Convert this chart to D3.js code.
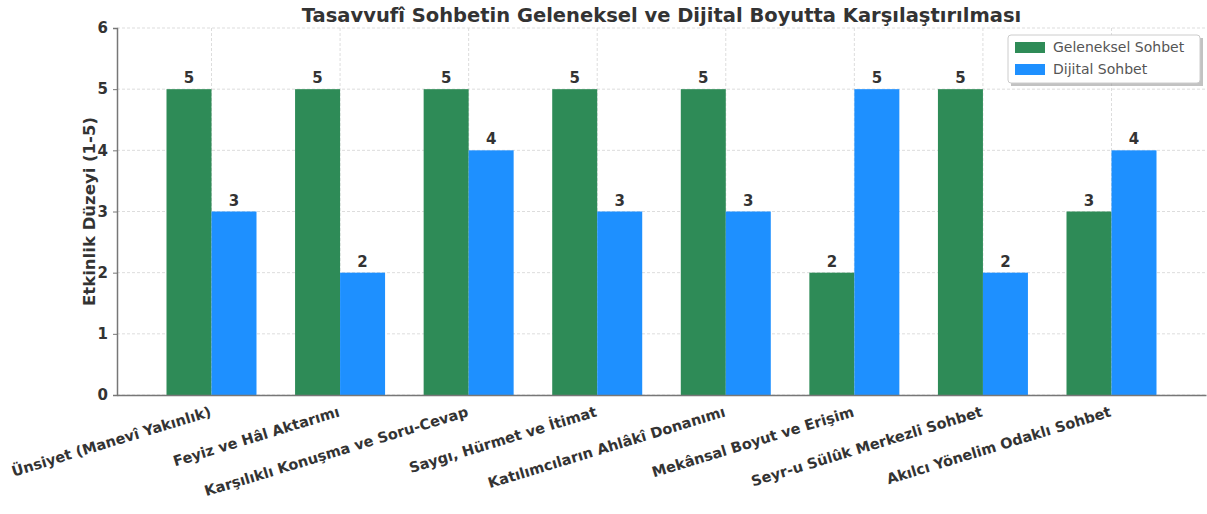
<!DOCTYPE html>
<html>
<head>
<meta charset="utf-8">
<script src="https://cdn.jsdelivr.net/npm/d3@7"></script>
<style>
  body { margin: 0; background: #fff; }
  svg text { font-family: "DejaVu Sans", sans-serif; fill: #333; }
</style>
</head>
<body>
<div id="chart"></div>
<script>
const categories = [
  "Ünsiyet (Manevî Yakınlık)",
  "Feyiz ve Hâl Aktarımı",
  "Karşılıklı Konuşma ve Soru-Cevap",
  "Saygı, Hürmet ve İtimat",
  "Katılımcıların Ahlâkî Donanımı",
  "Mekânsal Boyut ve Erişim",
  "Seyr-u Sülûk Merkezli Sohbet",
  "Akılcı Yönelim Odaklı Sohbet"
];
const geleneksel = [5, 5, 5, 5, 5, 2, 5, 3];
const dijital = [3, 2, 4, 3, 3, 5, 2, 4];
const seriesNames = ["Geleneksel Sohbet", "Dijital Sohbet"];
const yTicks = [0, 1, 2, 3, 4, 5, 6];

const width = 1207, height = 514;
const margin = {top: 28, right: 1, bottom: 119, left: 117};
const colors = ["#2e8b57", "#1e90ff"];
const barW = 0.35;

const svg = d3.select("#chart").append("svg")
  .attr("width", width)
  .attr("height", height);

// index based linear x, like matplotlib with default margins
const x = d3.scaleLinear()
  .domain([-0.735, categories.length - 1 + 0.735])
  .range([margin.left, width - margin.right]);
const y = d3.scaleLinear()
  .domain([0, 6])
  .range([height - margin.bottom, margin.top]);

// grid
const grid = svg.append("g");
grid.selectAll("line.gy")
  .data(yTicks)
  .join("line")
  .attr("x1", margin.left).attr("x2", width - margin.right)
  .attr("y1", d => y(d)).attr("y2", d => y(d))
  .attr("stroke", "#ddd").attr("stroke-dasharray", "3,2");
grid.selectAll("line.gx")
  .data(categories)
  .join("line")
  .attr("x1", (d, i) => x(i)).attr("x2", (d, i) => x(i))
  .attr("y1", margin.top).attr("y2", height - margin.bottom)
  .attr("stroke", "#ddd").attr("stroke-dasharray", "3,2");

// bars
[geleneksel, dijital].forEach((vals, s) => {
  const off = s === 0 ? -barW : 0;
  svg.append("g")
    .selectAll("rect")
    .data(vals)
    .join("rect")
    .attr("x", (d, i) => x(i + off))
    .attr("width", x(barW) - x(0))
    .attr("y", d => y(d))
    .attr("height", d => y(0) - y(d))
    .attr("fill", colors[s]);

  svg.append("g")
    .selectAll("text")
    .data(vals)
    .join("text")
    .attr("x", (d, i) => x(i + off + barW / 2))
    .attr("y", d => y(d) - 6)
    .attr("text-anchor", "middle")
    .attr("font-size", 15)
    .attr("font-weight", "bold")
    .text(d => d);
});

// axes
const yAxis = svg.append("g")
  .attr("transform", `translate(${margin.left},0)`)
  .call(d3.axisLeft(y).tickValues(yTicks).tickFormat(d3.format("d")).tickSize(4).tickPadding(5));
yAxis.selectAll("text").attr("font-size", 15).attr("font-weight", "bold")
  .attr("font-family", "DejaVu Sans");
yAxis.selectAll("line, path").attr("stroke", "#777");
yAxis.select("path").attr("stroke-width", 1.5);

const xAxis = svg.append("g")
  .attr("transform", `translate(0,${height - margin.bottom})`)
  .call(d3.axisBottom(x).tickValues(d3.range(categories.length))
    .tickFormat(i => categories[i]).tickSize(0).tickPadding(0));
xAxis.select("path").attr("stroke", "#777").attr("stroke-width", 1.5);
xAxis.selectAll("text")
  .attr("font-size", 14.5)
  .attr("font-weight", "bold")
  .attr("font-family", "DejaVu Sans")
  .attr("text-anchor", "end")
  .attr("dy", null)
  .attr("y", 0)
  .attr("transform", "translate(0,21) rotate(-17)");

// title and y label
svg.append("text")
  .attr("x", (margin.left + width - margin.right) / 2)
  .attr("y", 22)
  .attr("text-anchor", "middle")
  .attr("font-size", 19.5)
  .attr("font-weight", "bold")
  .text("Tasavvufî Sohbetin Geleneksel ve Dijital Boyutta Karşılaştırılması");

svg.append("text")
  .attr("transform", `translate(95,${(margin.top + height - margin.bottom) / 2}) rotate(-90)`)
  .attr("text-anchor", "middle")
  .attr("font-size", 16.5)
  .attr("font-weight", "bold")
  .text("Etkinlik Düzeyi (1-5)");

// legend
const lg = svg.append("g").attr("transform", "translate(1008,35)");
lg.append("rect").attr("x", 3).attr("y", 3).attr("width", 192).attr("height", 48)
  .attr("fill", "#999").attr("opacity", 0.6);
lg.append("rect").attr("width", 192).attr("height", 48)
  .attr("fill", "#fff").attr("stroke", "#ccc").attr("rx", 3);
seriesNames.forEach((name, i) => {
  lg.append("rect").attr("x", 7).attr("y", 7 + i * 22).attr("width", 30).attr("height", 11)
    .attr("fill", colors[i]);
  lg.append("text").attr("x", 45).attr("y", 17 + i * 22)
    .attr("font-size", 14).style("fill", "#555")
    .text(name);
});
</script>
</body>
</html>
